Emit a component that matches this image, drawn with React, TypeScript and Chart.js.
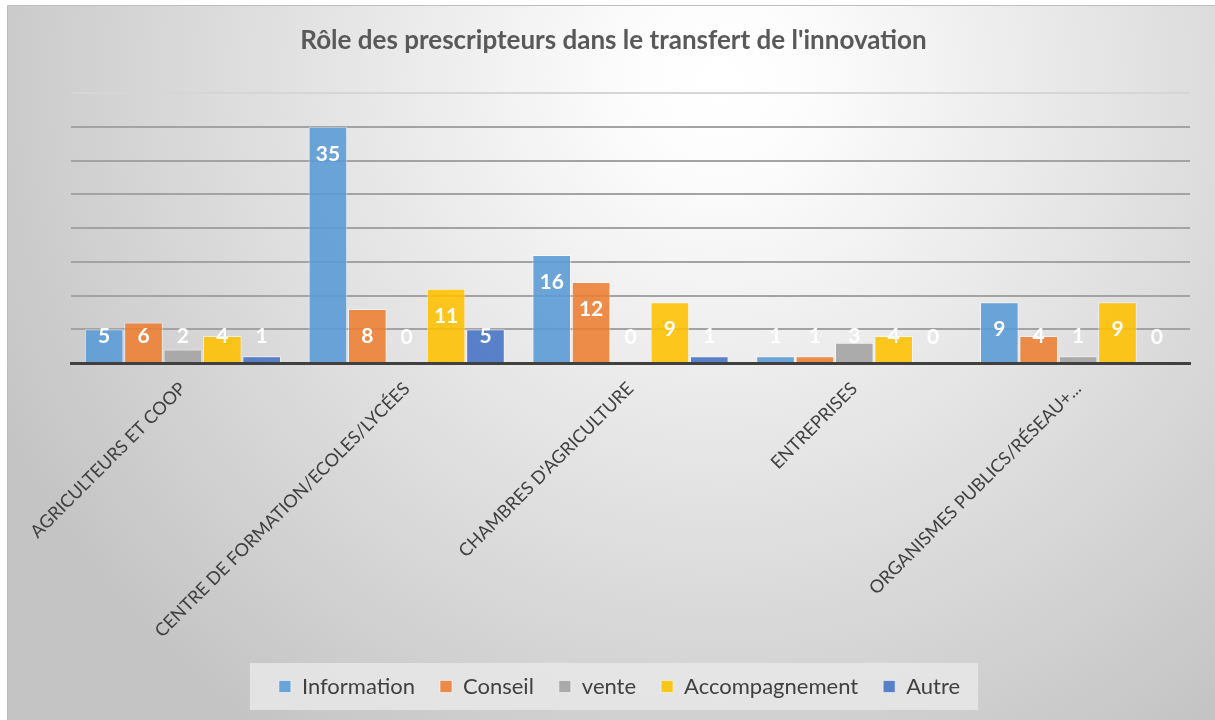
import { useEffect, useRef } from "react";
import { Chart, registerables } from "chart.js";

Chart.register(...registerables);

const titleText = "Rôle des prescripteurs dans le transfert de l'innovation";
const categories = [
  "AGRICULTEURS ET COOP",
  "CENTRE DE FORMATION/ECOLES/LYCÉES",
  "CHAMBRES D'AGRICULTURE",
  "ENTREPRISES",
  "ORGANISMES PUBLICS/RÉSEAU+...",
];
const seriesNames = ["Information", "Conseil", "vente", "Accompagnement", "Autre"];
const information = [5, 35, 16, 1, 9];
const conseil = [6, 8, 12, 1, 4];
const vente = [2, 0, 0, 3, 1];
const accompagnement = [4, 11, 9, 4, 9];
const autre = [1, 5, 1, 0, 0];
const seriesValues = [information, conseil, vente, accompagnement, autre];
const seriesColors = [
  "rgba(91,155,213,0.9)",
  "rgba(237,125,49,0.88)",
  "rgba(165,165,165,0.92)",
  "rgba(255,192,0,0.88)",
  "rgba(68,114,196,0.88)",
];
const yMin = 0;
const yMax = 40;
const yStep = 5;

const FONT = "Lato";
const LEGEND_FONT = 22;

const backgroundPlugin = {
  id: "frameBackground",
  beforeDraw(chart: any) {
    const { ctx, width, height } = chart;
    ctx.save();
    ctx.fillStyle = "#ffffff";
    ctx.fillRect(0, 0, width, height);
    const g = ctx.createRadialGradient(720, 80, 0, 720, 80, 800);
    g.addColorStop(0, "#ffffff");
    g.addColorStop(0.1, "#fdfdfd");
    g.addColorStop(1, "#c4c4c4");
    ctx.fillStyle = g;
    ctx.fillRect(8, 6, width - 8, height - 6);
    ctx.strokeStyle = "#bdbdbd";
    ctx.lineWidth = 1;
    ctx.beginPath();
    ctx.moveTo(7.5, height);
    ctx.lineTo(7.5, 5.5);
    ctx.lineTo(width, 5.5);
    ctx.stroke();

    // legend background box
    const lg = chart.legend;
    if (lg && lg.lineWidths && lg.lineWidths.length) {
      const pad = lg.options.labels.padding;
      const lw = lg.lineWidths[0];
      const start = (lg.left + pad + lg.right - lw) / 2;
      const end = start + lw - pad;
      const center = lg.top + pad + LEGEND_FONT / 2;
      ctx.fillStyle = "rgba(232,232,232,0.85)";
      ctx.fillRect(start - 29, center - 23.5, end - start + 47, 47);
    }
    ctx.restore();
  },
};

const shiftPlugin = {
  id: "centerShift",
  afterLayout(chart: any) {
    const t = chart.titleBlock;
    if (t) {
      t.left -= 17;
      t.right -= 17;
    }
    const lg = chart.legend;
    if (lg) {
      lg.left -= 11;
      lg.right -= 11;
    }
  },
};

const valueLabelPlugin = {
  id: "valueLabels",
  afterDatasetsDraw(chart: any) {
    const ctx = chart.ctx;
    ctx.save();
    ctx.font = `bold 21px ${FONT}`;
    ctx.fillStyle = "#ffffff";
    ctx.textAlign = "center";
    ctx.textBaseline = "middle";
    chart.data.datasets.forEach((ds: any, i: number) => {
      const meta = chart.getDatasetMeta(i);
      meta.data.forEach((el: any, j: number) => {
        const { x, y, base } = el.getProps(["x", "y", "base"], true);
        const ly = Math.min(y + 27, base - 26);
        ctx.fillText(String(ds.data[j]), x, ly);
      });
    });
    ctx.restore();
  },
};

export default function App() {
  const ref = useRef<HTMLCanvasElement | null>(null);

  useEffect(() => {
    if (!ref.current) return;
    Chart.defaults.font.family = FONT;
    const chart = new Chart(ref.current, {
      type: "bar",
      data: {
        labels: categories,
        datasets: seriesNames.map((name, i) => ({
          label: name,
          data: seriesValues[i],
          backgroundColor: seriesColors[i],
          borderColor: "rgba(255,255,255,0.55)",
          borderWidth: 1,
          categoryPercentage: 0.88,
          barPercentage: 0.98,
        })),
      },
      options: {
        responsive: false,
        animation: false,
        layout: { padding: { top: 20, left: 71, right: 25, bottom: 12.5 } },
        plugins: {
          title: {
            display: true,
            text: titleText,
            color: "#595959",
            font: { family: FONT, size: 26, weight: "bold" },
            padding: { top: 5, bottom: 36.8 },
          },
          legend: {
            display: true,
            position: "bottom",
            labels: {
              color: "#404040",
              font: { family: FONT, size: LEGEND_FONT },
              boxWidth: 12,
              boxHeight: 12,
              padding: 25,
            },
          },
          tooltip: { enabled: false },
        },
        scales: {
          x: {
            grid: { display: false, drawTicks: false },
            border: { display: true, color: "#404040", width: 3 },
            ticks: {
              autoSkip: false,
              maxRotation: 45,
              minRotation: 45,
              color: "#404040",
              font: { family: FONT, size: 18 },
              padding: 15,
            },
            afterFit: (scale: any) => {
              scale.height = 287.5;
            },
          },
          y: {
            min: yMin,
            max: yMax,
            ticks: { display: false, stepSize: yStep },
            border: { display: false },
            grid: {
              drawTicks: false,
              lineWidth: 2,
              color: (c: any) =>
                c.tick && c.tick.value === yMax ? "#d6d6d6" : "#a3a3a3",
            },
          },
        },
      },
      plugins: [backgroundPlugin, shiftPlugin, valueLabelPlugin],
    });
    return () => chart.destroy();
  }, []);

  return (
    <div style={{ position: "fixed", left: 0, top: 0, width: 1215, height: 720 }}>
      <canvas ref={ref} width={1215} height={720} />
    </div>
  );
}
